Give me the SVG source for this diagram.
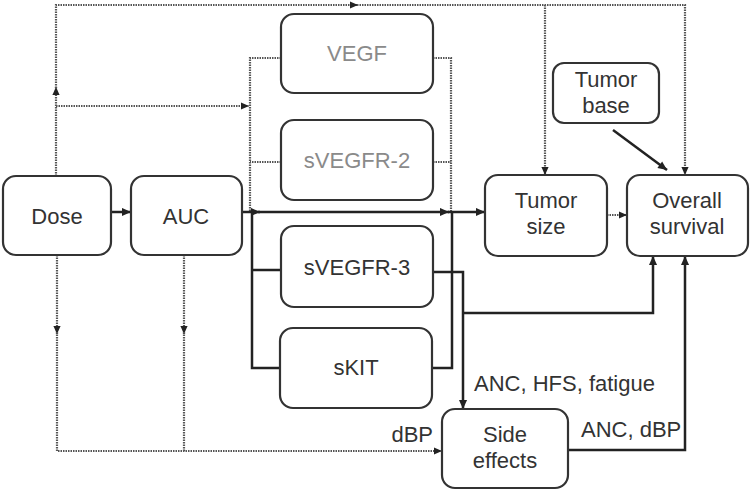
<svg xmlns="http://www.w3.org/2000/svg" width="750" height="492" viewBox="0 0 750 492">
<style>
.box{fill:#fff;stroke:#333;stroke-width:2.2}
.t{font-family:"Liberation Sans",Arial,sans-serif;font-size:22px;fill:#333;text-anchor:middle}
.g{fill:#8a8a8a}
.lbl{font-family:"Liberation Sans",Arial,sans-serif;font-size:22px;fill:#333}
.s{fill:none;stroke:#222;stroke-width:2.5}
.d{fill:none;stroke:#555;stroke-width:2.2;stroke-dasharray:1.5 1}
</style>
<defs>
<marker id="a" viewBox="0 0 10 10" refX="10" refY="5" markerWidth="10" markerHeight="9" markerUnits="userSpaceOnUse" orient="auto"><path d="M0,0.5 L10,5 L0,9.5 z" fill="#222"/></marker>
<marker id="b" viewBox="0 0 10 10" refX="10" refY="5" markerWidth="8" markerHeight="8" markerUnits="userSpaceOnUse" orient="auto"><path d="M0,0.5 L10,5 L0,9.5 z" fill="#222"/></marker>
</defs>
<g id="connectors">
<path class="d" d="M56,176 V87" marker-end="url(#b)"/>
<path class="d" d="M56,88 V5 H358" marker-end="url(#b)"/>
<path class="d" d="M357,5 H685 V175" marker-end="url(#b)"/>
<path class="d" d="M545,5 V175" marker-end="url(#b)"/>
<path class="d" d="M56,106 H249" marker-end="url(#b)"/>
<path class="d" d="M281,58 H250 V212 M281,162 H250"/>
<path class="d" d="M433,58 H451 V212 M433,162 H451"/>
<path class="s" d="M111,212 H131" marker-end="url(#a)"/>
<path class="s" d="M242,212 H260" marker-end="url(#a)"/>
<path class="s" d="M258,212 H449" marker-end="url(#a)"/>
<path class="s" d="M448,212 H485" marker-end="url(#a)"/>
<path class="s" d="M252,212 V368 H280 M252,270 H281"/>
<path class="s" d="M452,212 V368 H432"/>
<path class="s" d="M433,272 H463 V409" marker-end="url(#a)"/>
<path class="s" d="M463,313 H653 V256" marker-end="url(#a)"/>
<path class="s" d="M568,450 H685 V256" marker-end="url(#a)"/>
<path class="d" d="M607,215 H627" marker-end="url(#b)"/>
<path class="s" d="M613,130 L667,170" marker-end="url(#a)"/>
<path class="d" d="M57,255 V334" marker-end="url(#b)"/>
<path class="d" d="M57,332 V451 H442" marker-end="url(#b)"/>
<path class="d" d="M184,255 V334" marker-end="url(#b)"/>
<path class="d" d="M184,332 V451"/>
</g>
<g id="dose"><rect class="box" x="3" y="176" width="108" height="79" rx="13"/><text class="t" x="57" y="224">Dose</text></g>
<g id="auc"><rect class="box" x="131" y="176" width="111" height="79" rx="13"/><text class="t" x="186" y="224">AUC</text></g>
<g id="vegf"><rect class="box" x="281" y="14" width="152" height="79" rx="13"/><text class="t g" x="357" y="61">VEGF</text></g>
<g id="svegfr2"><rect class="box" x="281" y="120" width="152" height="80" rx="13"/><text class="t g" x="357" y="168">sVEGFR-2</text></g>
<g id="svegfr3"><rect class="box" x="281" y="226" width="152" height="81" rx="13"/><text class="t" x="357" y="275">sVEGFR-3</text></g>
<g id="skit"><rect class="box" x="280" y="328" width="152" height="80" rx="13"/><text class="t" x="356" y="375">sKIT</text></g>
<g id="tumorsize"><rect class="box" x="485" y="175" width="122" height="81" rx="13"/><text class="t" x="546" y="208">Tumor</text><text class="t" x="546" y="234">size</text></g>
<g id="survival"><rect class="box" x="627" y="175" width="121" height="81" rx="13"/><text class="t" x="687" y="208">Overall</text><text class="t" x="687" y="234">survival</text></g>
<g id="tumorbase"><rect class="box" x="553" y="63" width="106" height="60" rx="11"/><text class="t" x="606" y="87">Tumor</text><text class="t" x="606" y="113">base</text></g>
<g id="sideeffects"><rect class="box" x="442" y="409" width="126" height="79" rx="13"/><text class="t" x="505" y="442">Side</text><text class="t" x="505" y="468">effects</text></g>
<g id="labels">
<text class="lbl" x="474" y="391">ANC, HFS, fatigue</text>
<text class="lbl" x="581" y="437">ANC, dBP</text>
<text class="lbl" x="433" y="442" text-anchor="end">dBP</text>
</g>
</svg>
